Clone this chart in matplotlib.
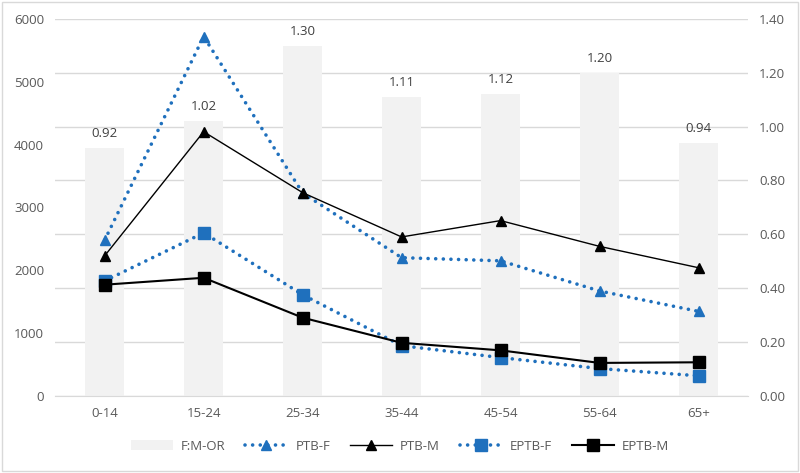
import matplotlib
matplotlib.use("Agg")
import matplotlib.pyplot as plt
import numpy as np
from matplotlib.patches import Rectangle

plt.rcParams['font.family'] = ['Open Sans', 'DejaVu Sans']

categories = ["0-14", "15-24", "25-34", "35-44", "45-54", "55-64", "65+"]
fm_or = [0.92, 1.02, 1.30, 1.11, 1.12, 1.20, 0.94]
ptb_f = [2480, 5720, 3230, 2200, 2150, 1670, 1345]
ptb_m = [2230, 4205, 3235, 2530, 2790, 2380, 2040]
eptb_f = [1830, 2595, 1610, 800, 610, 435, 320]
eptb_m = [1770, 1880, 1245, 845, 725, 525, 535]

blue = '#1f70bd'
gray_txt = '#595959'

fig = plt.figure(figsize=(8, 4.73), dpi=100)
ax = fig.add_axes([0.069, 0.163, 0.866, 0.797])
ax2 = ax.twinx()

x = np.arange(len(categories))

# bars on secondary axis
bars = ax2.bar(x, fm_or, width=0.39, color='#f2f2f2', zorder=1, label='F:M-OR')
for xi, v in zip(x, fm_or):
    ax2.text(xi, v + 0.03, f"{v:.2f}", ha='center', va='bottom', fontsize=9.5, color='#404040')
ax2.set_ylim(0, 1.4)
ax2.set_yticks(np.arange(0, 1.41, 0.2))
ax2.set_yticklabels([f"{t:.2f}" for t in np.arange(0, 1.41, 0.2)])

# lines on primary axis
ax.set_zorder(ax2.get_zorder() + 1)
ax.patch.set_visible(False)
dot = (0, (0.01, 2.1))
ax.plot(x, ptb_f, color=blue, linestyle=dot, linewidth=2.6, dash_capstyle='round',
        marker='^', markersize=7, label='PTB-F')
ax.plot(x, ptb_m, color='black', linewidth=1.0, marker='^', markersize=7, label='PTB-M')
ax.plot(x, eptb_f, color=blue, linestyle=dot, linewidth=2.6, dash_capstyle='round',
        marker='s', markersize=8, label='EPTB-F')
ax.plot(x, eptb_m, color='black', linewidth=1.5, marker='s', markersize=8, label='EPTB-M')

ax.set_ylim(0, 6000)
ax.set_yticks(range(0, 6001, 1000))
ax.set_xlim(-0.5, len(categories) - 0.5)
ax.set_xticks(x)
ax.set_xticklabels(categories)

for a in (ax, ax2):
    for s in ['top', 'left', 'right']:
        a.spines[s].set_visible(False)
    a.spines['bottom'].set_color('#d9d9d9')
    a.tick_params(length=0, labelsize=9.5, colors=gray_txt, pad=8)
ax2.spines['bottom'].set_visible(False)

ax2.yaxis.grid(True, color='#d9d9d9', linewidth=1)
ax2.set_axisbelow(True)

handles = [bars] + ax.get_lines()
labels = ['F:M-OR', 'PTB-F', 'PTB-M', 'EPTB-F', 'EPTB-M']
leg = fig.legend(handles, labels, loc='center', bbox_to_anchor=(0.5, 0.057), ncol=5, frameon=False,
                 fontsize=9.5, handlelength=3.2, columnspacing=1.5, handletextpad=0.6)
for t in leg.get_texts():
    t.set_color(gray_txt)

fig.patches.append(Rectangle((0.003, 0.005), 0.994, 0.99, transform=fig.transFigure,
                             fill=False, edgecolor='#d9d9d9', linewidth=1))

fig.savefig('out.png', dpi=100)
